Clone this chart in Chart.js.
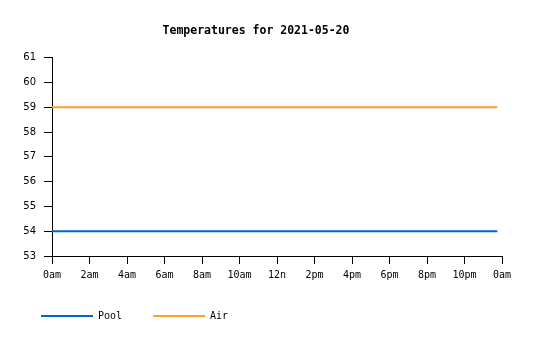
<!DOCTYPE html>
<html>
<head>
<meta charset="utf-8">
<script src="https://cdn.jsdelivr.net/npm/chart.js@4"></script>
<style>
  body { margin: 0; background: #fff; }
</style>
</head>
<body>
<canvas id="tempChart" width="535" height="340"></canvas>
<script>
// readings for the day (hours since midnight)
const hours = [0, 23.75];
const poolTemps = [54, 54];
const airTemps = [59, 59];
const hourLabels = ['0am', '2am', '4am', '6am', '8am', '10am', '12n', '2pm', '4pm', '6pm', '8pm', '10pm', '0am'];
const seriesNames = ['Pool', 'Air'];

const mono = 'DejaVu Sans Mono';
Chart.defaults.color = '#000';

function toPoints(vals) {
    return hours.map((h, i) => ({ x: h, y: vals[i] }));
}

new Chart(document.getElementById('tempChart'), {
    type: 'line',
    data: {
        datasets: [{
            label: seriesNames[0],
            data: toPoints(poolTemps),
            borderColor: '#0066cc',
            backgroundColor: '#0066cc',
            borderWidth: 2,
            pointRadius: 0
        }, {
            label: seriesNames[1],
            data: toPoints(airTemps),
            borderColor: '#ffa128',
            backgroundColor: '#ffa128',
            borderWidth: 2,
            pointRadius: 0
        }]
    },
    options: {
        responsive: false,
        animation: false,
        layout: { padding: { left: 10, right: 33, top: 0, bottom: 9 } },
        plugins: {
            title: {
                display: true,
                text: 'Temperatures for 2021-05-20',
                font: { family: mono, size: 11.5, weight: 'bold' },
                padding: { top: 24, bottom: 20 }
            },
            legend: {
                position: 'bottom',
                align: 'start',
                labels: {
                    boxWidth: 52,
                    boxHeight: 0,
                    padding: 31,
                    font: { family: mono, size: 10 }
                }
            },
            tooltip: { enabled: false }
        },
        scales: {
            x: {
                type: 'linear',
                min: 0,
                max: 24,
                border: { color: '#000' },
                grid: { drawOnChartArea: false, color: '#000', tickLength: 8 },
                ticks: {
                    stepSize: 2,
                    padding: 5,
                    maxRotation: 0,
                    font: { family: mono, size: 10 },
                    callback: v => hourLabels[v / 2]
                },
                afterFit: scale => { scale.height = 24; }
            },
            y: {
                min: 53,
                max: 61,
                border: { color: '#000' },
                grid: { drawOnChartArea: false, color: '#000', tickLength: 8 },
                ticks: {
                    stepSize: 1,
                    padding: 8,
                    font: { family: 'DejaVu Sans', size: 10 }
                },
                afterFit: scale => { scale.width = 42; }
            }
        }
    }
});
</script>
</body>
</html>
